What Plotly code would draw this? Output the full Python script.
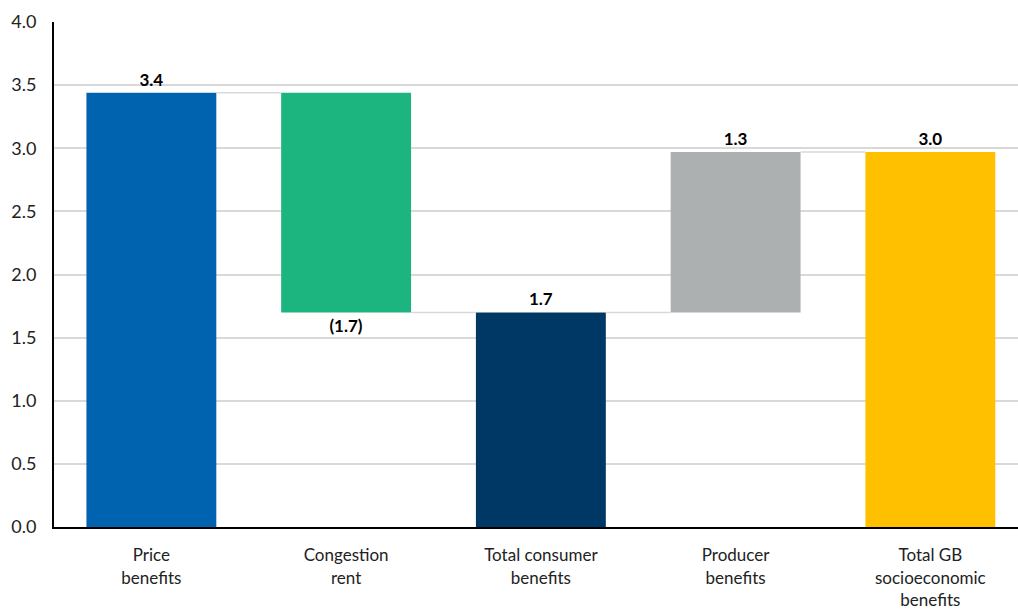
import plotly.graph_objects as go

categories = ["Price<br>benefits", "Congestion<br>rent", "Total consumer<br>benefits",
              "Producer<br>benefits", "Total GB<br>socioeconomic<br>benefits"]
changes = [3.44, -1.74, None, 1.27, None]   # None = running total bar
colors = ["#0063AF", "#1DB57F", "#003865", "#ADB0B1", "#FFC000"]

# build bases / heights of the waterfall from the changes
bases, heights, ends = [], [], []
running = 0.0
for c in changes:
    if c is None:
        bases.append(0)
        heights.append(running)
    else:
        bases.append(running)
        heights.append(c)
        running += c
    ends.append(running)

labels = [f"({abs(h):.1f})" if h < 0 else f"{h:.1f}" for h in heights]
xs = list(range(len(categories)))
bar_w = 0.667

fig = go.Figure()
fig.add_trace(go.Bar(
    x=xs, y=heights, base=bases, width=bar_w,
    marker=dict(color=colors, line=dict(width=0)),
    text=labels, textposition="outside", cliponaxis=False,
    textfont=dict(family="Lato", size=17, color="black", weight="bold"),
))

# connector lines between bars
for i in range(len(xs) - 1):
    fig.add_shape(type="line", x0=xs[i] + bar_w / 2, x1=xs[i + 1] - bar_w / 2,
                  y0=ends[i], y1=ends[i], line=dict(color="#D9D9D9", width=1.5))

fig.update_layout(
    width=1018, height=615,
    margin=dict(l=54, r=0, t=22, b=88),
    plot_bgcolor="white", paper_bgcolor="white",
    showlegend=False,
    font=dict(family="Lato", size=17, color="#222"),
)
fig.update_xaxes(
    tickvals=xs, ticktext=categories, range=[-0.5, 4.45],
    showline=True, linecolor="black", linewidth=2,
    showgrid=False, ticks="", ticklabelstandoff=12, automargin=False,
    tickfont=dict(size=17, color="#222"),
)
fig.update_yaxes(
    range=[0, 4.0], dtick=0.5, tickformat=".1f",
    showline=True, linecolor="black", linewidth=2,
    showgrid=True, gridcolor="#D9D9D9", gridwidth=1.5,
    zeroline=False, ticks="", ticklabelstandoff=12, automargin=False,
    tickfont=dict(size=18, color="#222"),
)

# drop the default page margin so the figure sits at the window origin
fig.write_html("out.html", config={"displayModeBar": False},
               post_script="document.body.style.margin='0';")
